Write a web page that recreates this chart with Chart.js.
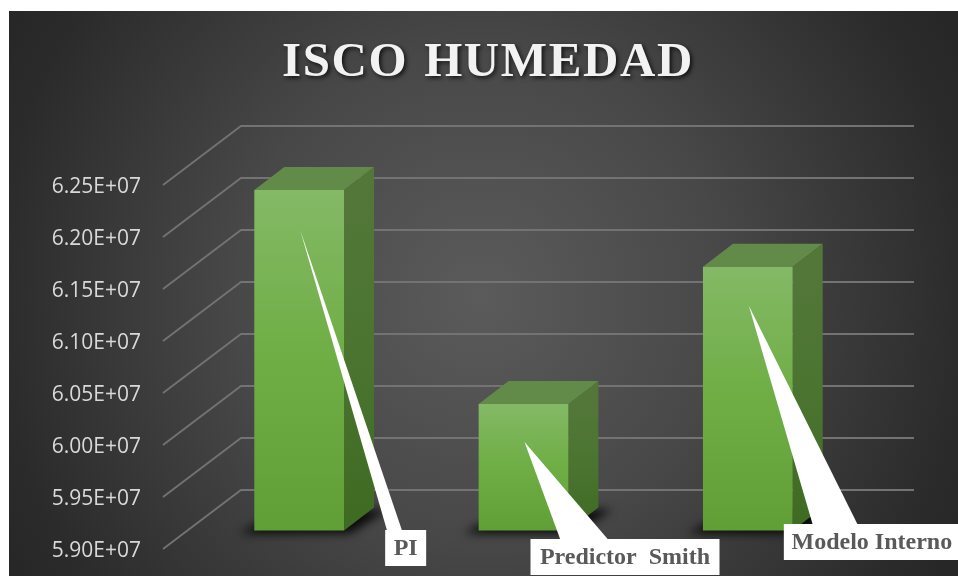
<!DOCTYPE html>
<html>
<head>
<meta charset="utf-8">
<title>ISCO HUMEDAD</title>
<script src="https://cdn.jsdelivr.net/npm/chart.js@4"></script>
<style>
    html, body { margin: 0; padding: 0; background: #fff; overflow: hidden; }
    canvas { display: block; }
</style>
</head>
<body>
<canvas id="iscoChart" width="958" height="576"></canvas>
<script>
const categories = ['PI', 'Predictor  Smith', 'Modelo Interno'];
const iscoValues = [62275000, 60216000, 61535000];
const axisMin = 59000000;
const axisMax = 62500000;
const axisStep = 500000;

// depth of the 3D box and where the bars stand inside it
const wallDepth = { x: 78, y: -59 };
const barShift = { x: 24, y: -18.5 };
const barDepth = { x: 30, y: -23 };

// callout boxes, measured from the centre and foot of each bar front
const callouts = [
    { left: 86, width: 41, drop: -0.5, height: 36, baseFrom: 88, baseTo: 103, tipDown: 40 },
    { left: 7, width: 189, drop: 8.5, height: 36, baseFrom: 37, baseTo: 85, tipDown: 38 },
    { left: 36, width: 176, drop: -6.5, height: 36, baseFrom: 65, baseTo: 110, tipDown: 39 }
];

function poly(ctx, points, fill) {
    ctx.beginPath();
    points.forEach((p, i) => i ? ctx.lineTo(p[0], p[1]) : ctx.moveTo(p[0], p[1]));
    ctx.closePath();
    ctx.fillStyle = fill;
    ctx.fill();
}

const boxPlugin = {
    id: 'box3d',
    beforeDraw(chart) {
        const ctx = chart.ctx;
        const bg = ctx.createRadialGradient(480, 295, 0, 480, 295, 540);
        bg.addColorStop(0, '#5b5b5b');
        bg.addColorStop(0.45, '#484848');
        bg.addColorStop(0.9, '#2b2b2b');
        bg.addColorStop(1, '#272727');
        ctx.save();
        ctx.fillStyle = bg;
        ctx.fillRect(9, 11, 949, 565);
        ctx.restore();

        // title needs a drop shadow and wider spacing than the plugin offers
        if (!chart.titleBlock.wrapped) {
            const drawTitle = chart.titleBlock.draw;
            chart.titleBlock.draw = function () {
                ctx.save();
                ctx.translate(70, 0);
                ctx.letterSpacing = '1.6px';
                ctx.wordSpacing = '2px';
                ctx.shadowColor = 'rgba(0,0,0,0.75)';
                ctx.shadowBlur = 4;
                ctx.shadowOffsetX = 2;
                ctx.shadowOffsetY = 2;
                drawTitle.apply(this, arguments);
                ctx.restore();
            };
            chart.titleBlock.wrapped = true;
        }
    },
    beforeDatasetsDraw(chart) {
        const ctx = chart.ctx;
        const area = chart.chartArea;
        const yScale = chart.scales.y;

        // side wall and back wall lines
        ctx.save();
        ctx.strokeStyle = '#737373';
        ctx.lineWidth = 1.8;
        yScale.ticks.forEach(t => {
            const y = yScale.getPixelForValue(t.value);
            ctx.beginPath();
            ctx.moveTo(area.left, y);
            ctx.lineTo(area.left + wallDepth.x, y + wallDepth.y);
            ctx.lineTo(area.right + wallDepth.x, y + wallDepth.y);
            ctx.stroke();
        });
        ctx.restore();

        const bars = chart.getDatasetMeta(0).data;
        const base = area.bottom + barShift.y;

        // floor shadows
        ctx.save();
        ctx.filter = 'blur(5px)';
        bars.forEach(bar => {
            const half = bar.width / 2;
            const cx = bar.x + barShift.x;
            poly(ctx, [
                [cx - half - 15, base + 3],
                [cx + half + 6, base + 3],
                [cx + half + barDepth.x + 14, base + barDepth.y + 2],
                [cx - half + barDepth.x, base + barDepth.y + 2]
            ], 'rgba(0,0,0,0.85)');
        });
        ctx.restore();

        // top and side faces of the bars
        ctx.save();
        bars.forEach(bar => {
            const half = bar.width / 2;
            const cx = bar.x + barShift.x;
            const top = bar.y + barShift.y;
            const side = ctx.createLinearGradient(0, top, 0, base);
            side.addColorStop(0, '#537739');
            side.addColorStop(0.5, '#4a7430');
            side.addColorStop(1, '#3e6a21');
            poly(ctx, [
                [cx + half, top],
                [cx + half + barDepth.x, top + barDepth.y],
                [cx + half + barDepth.x, base + barDepth.y],
                [cx + half, base]
            ], side);
            poly(ctx, [
                [cx - half, top],
                [cx - half + barDepth.x, top + barDepth.y],
                [cx + half + barDepth.x, top + barDepth.y],
                [cx + half, top]
            ], '#628a49');
        });
        ctx.restore();

        ctx.save();
        ctx.translate(barShift.x, barShift.y);
    },
    afterDatasetsDraw(chart) {
        const ctx = chart.ctx;
        ctx.restore();

        const bars = chart.getDatasetMeta(0).data;
        const base = chart.chartArea.bottom + barShift.y;
        ctx.save();
        ctx.font = 'bold 24px "Liberation Serif"';
        ctx.textAlign = 'center';
        ctx.textBaseline = 'middle';
        bars.forEach((bar, i) => {
            const c = callouts[i];
            const cx = bar.x + barShift.x;
            const left = cx + c.left;
            const top = base + c.drop;
            poly(ctx, [
                [cx + 1, bar.y + barShift.y + c.tipDown],
                [cx + c.baseFrom, top + 1],
                [cx + c.baseTo, top + 1]
            ], '#fff');
            ctx.fillStyle = '#fff';
            ctx.fillRect(left, top, c.width, c.height);
            ctx.fillStyle = '#595959';
            ctx.fillText(categories[i], left + c.width / 2, top + c.height / 2 + 1);
        });
        ctx.restore();
    }
};

new Chart(document.getElementById('iscoChart'), {
    type: 'bar',
    plugins: [boxPlugin],
    data: {
        labels: categories,
        datasets: [{
            data: iscoValues,
            barPercentage: 1,
            categoryPercentage: 0.4,
            borderWidth: 0,
            backgroundColor(c) {
                const { chart, dataIndex } = c;
                if (!chart.chartArea) return '#6fb045';
                const top = chart.scales.y.getPixelForValue(iscoValues[dataIndex]);
                const g = chart.ctx.createLinearGradient(0, top, 0, chart.chartArea.bottom);
                g.addColorStop(0, '#84b966');
                g.addColorStop(0.5, '#6eae44');
                g.addColorStop(1, '#5f9f36');
                return g;
            }
        }]
    },
    options: {
        responsive: false,
        animation: false,
        layout: { padding: { left: 0, right: 122, top: 0, bottom: 27 } },
        plugins: {
            legend: { display: false },
            tooltip: { enabled: false },
            title: {
                display: true,
                text: 'ISCO HUMEDAD',
                color: '#f2f2f2',
                font: { family: '"Liberation Serif"', size: 49, weight: 'bold', lineHeight: 1.2 },
                padding: { top: 34.3, bottom: 91.9 }
            }
        },
        scales: {
            x: { display: false },
            y: {
                min: axisMin,
                max: axisMax,
                afterFit(scale) {
                    // tick padding would otherwise eat into the plot height
                    scale.width = 163;
                    scale.paddingTop = 0;
                    scale.paddingBottom = 0;
                },
                grid: { display: false, drawTicks: false },
                border: { display: false },
                ticks: {
                    stepSize: axisStep,
                    padding: 22,
                    labelOffset: 2.5,
                    color: '#d9d9d9',
                    font: { family: '"Open Sans"', size: 21 },
                    callback(v) {
                        const parts = v.toExponential(2).split('e+');
                        return parts[0] + 'E+' + parts[1].padStart(2, '0');
                    }
                }
            }
        }
    }
});
</script>
</body>
</html>
